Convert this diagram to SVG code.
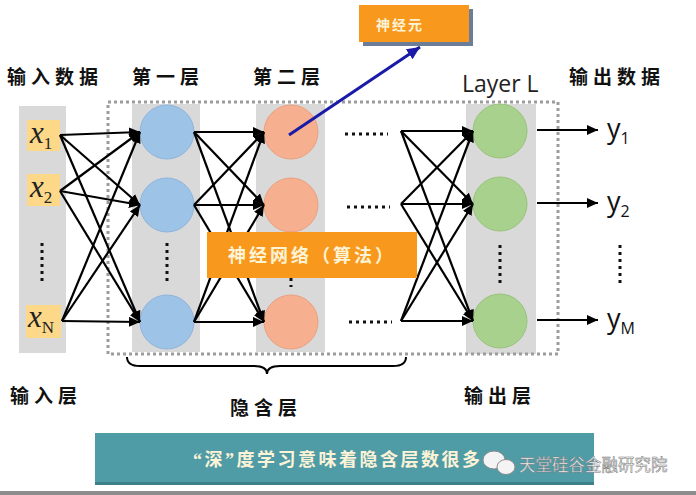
<svg xmlns="http://www.w3.org/2000/svg" width="696" height="495" viewBox="0 0 696 495">
<defs>
<marker id="ah" markerUnits="userSpaceOnUse" markerWidth="12" markerHeight="10" refX="11" refY="5" orient="auto">
<path d="M0,0 L11,5 L0,10 Z" fill="#000"/>
</marker>
<marker id="ahb" markerUnits="userSpaceOnUse" markerWidth="14" markerHeight="12" refX="13" refY="6" orient="auto">
<path d="M0,0 L13,6 L0,12 Z" fill="#1a1aa8"/>
</marker>
<style>
.col{fill:#d9d9d9}
.cn{font-family:"Noto Sans CJK SC","Noto Sans CJK JP",sans-serif;font-weight:700;fill:#111}
.lbl{font-size:19px;letter-spacing:5px}
.xb{fill:#fdd889}
.xt{font-family:"Liberation Serif",serif;font-style:italic;font-size:31px;fill:#222}
.xs{font-family:"Liberation Serif",serif;font-size:17px;fill:#222;font-style:normal}
.yt{font-family:"Open Sans","Liberation Sans",sans-serif;font-size:27px;fill:#111}
.ys{font-size:16px}
.blue{fill:#9dc3e6;stroke:#8eb4dc;stroke-width:1}
.org{fill:#f6b08f;stroke:#e9a080;stroke-width:1}
.grn{fill:#a9d18e;stroke:#98c27c;stroke-width:1}
.cl{stroke:#000;stroke-width:2.2;fill:none;marker-end:url(#ah)}
.dots{stroke:#111;stroke-width:3;stroke-dasharray:3 4;fill:none}
.box{fill:#f8991d}
.bt{font-family:"Noto Sans CJK SC",sans-serif;font-weight:700;fill:#fdf3d6}
</style>
</defs>
<rect width="696" height="495" fill="#fff"/>

<!-- columns -->
<rect class="col" x="19" y="106" width="47" height="247"/>
<rect class="col" x="132" y="104" width="68" height="248"/>
<rect class="col" x="256" y="104" width="69" height="248"/>
<rect class="col" x="466" y="104" width="70" height="250"/>

<!-- dotted hidden region -->
<rect x="108" y="102" width="450" height="252" fill="none" stroke="#9c9c9c" stroke-width="3" stroke-dasharray="3 3"/>

<!-- headers -->
<g id="headers">
<text class="cn lbl" x="7" y="84">输入数据</text>
<text class="cn lbl" x="132" y="84">第一层</text>
<text class="cn lbl" x="253" y="84">第二层</text>
<text x="462" y="92" font-family="Open Sans, Liberation Sans, sans-serif" font-size="23" fill="#222">Layer L</text>
<text class="cn lbl" x="569" y="84">输出数据</text>
</g>

<!-- input nodes -->
<g id="in-x1"><rect class="xb" x="27" y="120" width="33" height="31"/><text class="xt" x="30" y="143">x<tspan class="xs" dy="6">1</tspan></text></g>
<g id="in-x2"><rect class="xb" x="27" y="174" width="33" height="32"/><text class="xt" x="30" y="197">x<tspan class="xs" dy="6">2</tspan></text></g>
<g id="in-xN"><rect class="xb" x="26" y="305" width="35" height="33"/><text class="xt" x="28" y="327">x<tspan class="xs" dy="6">N</tspan></text></g>
<path class="dots" d="M42,243 V284"/>

<!-- layer 1 -->
<g id="l1-n1"><circle class="blue" cx="167" cy="132" r="27"/></g>
<g id="l1-n2"><circle class="blue" cx="167" cy="205" r="27"/></g>
<g id="l1-n3"><circle class="blue" cx="167" cy="322" r="27"/></g>
<path class="dots" d="M167,243 V284"/>

<!-- layer 2 -->
<g id="l2-n1"><circle class="org" cx="291" cy="132" r="27"/></g>
<g id="l2-n2"><circle class="org" cx="291" cy="205" r="27"/></g>
<g id="l2-n3"><circle class="org" cx="291" cy="322" r="27"/></g>
<path class="dots" d="M291,243 V287"/>

<!-- layer L -->
<g id="lL-n1"><circle class="grn" cx="500" cy="131" r="27"/></g>
<g id="lL-n2"><circle class="grn" cx="500" cy="204" r="27"/></g>
<g id="lL-n3"><circle class="grn" cx="500" cy="321" r="27"/></g>
<path class="dots" d="M500,245 V284"/>

<!-- ellipses between layers -->
<path class="dots" d="M345,134 H388 M347,207 H390 M349,322 H392"/>

<!-- outputs -->
<g id="out-y1"><text class="yt" x="607" y="138">y<tspan class="ys" dy="6">1</tspan></text></g>
<g id="out-y2"><text class="yt" x="607" y="211">y<tspan class="ys" dy="6">2</tspan></text></g>
<g id="out-yM"><text class="yt" x="607" y="328">y<tspan class="ys" dy="6">M</tspan></text></g>
<path class="dots" d="M620,245 V286"/>

<!-- connectors -->
<g id="connectors">
<path class="cl" d="M60,135 L140,132"/>
<path class="cl" d="M60,135 L140,205"/>
<path class="cl" d="M60,135 L140,322"/>
<path class="cl" d="M60,191 L140,132"/>
<path class="cl" d="M60,191 L140,205"/>
<path class="cl" d="M60,191 L140,322"/>
<path class="cl" d="M62,321 L140,132"/>
<path class="cl" d="M62,321 L140,205"/>
<path class="cl" d="M62,321 L140,322"/>

<path class="cl" d="M194,132 L264,132"/>
<path class="cl" d="M194,132 L264,205"/>
<path class="cl" d="M194,132 L264,322"/>
<path class="cl" d="M194,205 L264,132"/>
<path class="cl" d="M194,205 L264,205"/>
<path class="cl" d="M194,205 L264,322"/>
<path class="cl" d="M194,322 L264,132"/>
<path class="cl" d="M194,322 L264,205"/>
<path class="cl" d="M194,322 L264,322"/>

<path class="cl" d="M401,131 L473,131"/>
<path class="cl" d="M401,131 L473,204"/>
<path class="cl" d="M401,131 L473,321"/>
<path class="cl" d="M401,204 L473,131"/>
<path class="cl" d="M401,204 L473,204"/>
<path class="cl" d="M401,204 L473,321"/>
<path class="cl" d="M401,321 L473,131"/>
<path class="cl" d="M401,321 L473,204"/>
<path class="cl" d="M401,321 L473,321"/>

<path class="cl" d="M537,130 L598,130"/>
<path class="cl" d="M537,203 L598,203"/>
<path class="cl" d="M537,320 L598,320"/>

<path d="M289,135 L420,47" stroke="#1a1aa8" stroke-width="3" fill="none" marker-end="url(#ahb)"/>
</g>

<!-- neural network label box -->
<g id="nn-label">
<rect class="box" x="207" y="232" width="210" height="46"/>
<text class="bt" x="312" y="262" font-size="18" letter-spacing="3" text-anchor="middle">神经网络（算法）</text>
</g>

<!-- neuron label box -->
<g id="neuron-label">
<rect x="363" y="9" width="110" height="37" fill="#6b7d98"/>
<rect class="box" x="359" y="5" width="110" height="37"/>
<text class="bt" x="376" y="30" font-size="14" letter-spacing="2">神经元</text>
</g>

<!-- brace -->
<path d="M127,357 Q127,366 140,366 L254,366 Q267,366 267,374 Q267,366 280,366 L393,366 Q406,366 406,357" fill="none" stroke="#000" stroke-width="2"/>

<!-- bottom labels -->
<g id="bottom-labels">
<text class="cn lbl" x="10" y="403">输入层</text>
<text class="cn lbl" x="230" y="415">隐含层</text>
<text class="cn lbl" x="464" y="403">输出层</text>
</g>

<!-- deep learning banner -->
<g id="banner">
<rect x="95" y="433" width="499" height="52" fill="#4f9ba6"/>
<rect x="95" y="482" width="499" height="3" fill="#3f7f88"/>
<text class="bt" x="193" y="466" font-size="18" letter-spacing="2.5"><tspan font-family="Liberation Serif, serif">“</tspan>深<tspan font-family="Liberation Serif, serif">”</tspan>度学习意味着隐含层数很多</text>
</g>

<!-- watermark -->
<g id="watermark">
<ellipse cx="494" cy="460" rx="11" ry="9" fill="#f4f4f4" stroke="#8a8a8a" stroke-width="1"/>
<ellipse cx="506" cy="467" rx="9" ry="7.5" fill="#f4f4f4" stroke="#8a8a8a" stroke-width="1"/>
<text x="519" y="471" font-family="Noto Sans CJK SC, sans-serif" font-size="16.5" fill="#f6f6f6" stroke="#7a7a7a" stroke-width="0.5">天堂硅谷金融研究院</text>
</g>

<rect x="0" y="491" width="696" height="4" fill="#8c8c8c"/>
</svg>
